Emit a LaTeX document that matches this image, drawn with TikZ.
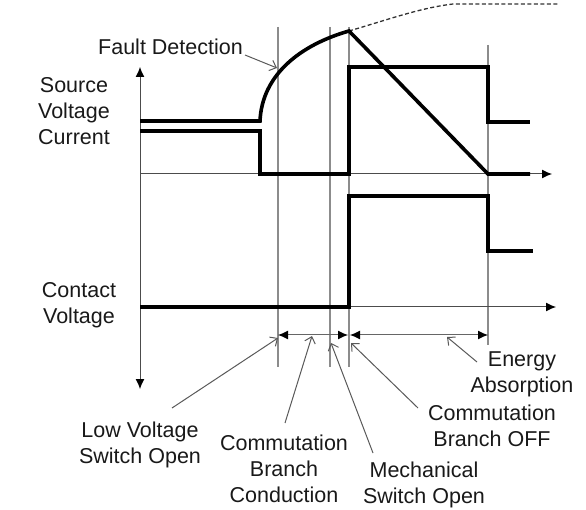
\documentclass[tikz,border=0pt]{standalone}
\usepackage{fontspec}
\setmainfont{Liberation Sans}
\usetikzlibrary{arrows.meta}
\begin{document}
\begin{tikzpicture}[x=1pt,y=-1pt,
  heavy/.style={line width=3.6pt, line join=miter, draw=black},
  guide/.style={line width=1.2pt, draw=black!45},
  axisline/.style={line width=1pt, draw=black!70, -{Latex[length=10pt,width=9pt,black]}},
  dimline/.style={line width=1pt, draw=black!60, {Latex[length=10pt,width=9pt,black]}-{Latex[length=10pt,width=9pt,black]}},
  pointer/.style={line width=1pt, draw=black!65, -{Straight Barb[length=6pt,width=11pt]}},
  lbl/.style={font=\fontsize{21.5}{26}\selectfont, inner sep=0pt, align=center, anchor=north, text=black!90}]
\useasboundingbox (0,0) rectangle (586,510);

% guide lines
\coordinate (g1t) at (278,27); \coordinate (g1b) at (278,367);
\coordinate (g2t) at (330,27); \coordinate (g2b) at (330,367);
\coordinate (g3t) at (349,27); \coordinate (g3b) at (349,367);
\coordinate (g4t) at (488,45); \coordinate (g4b) at (488,345);
\draw[guide] (g1t) -- (g1b);
\draw[guide] (g2t) -- (g2b);
\draw[guide] (g3t) -- (g3b);
\draw[guide] (g4t) -- (g4b);

% axes
\coordinate (vtop) at (140,67); \coordinate (vbot) at (140,389);
\coordinate (o1) at (140,174); \coordinate (x1) at (552,174);
\coordinate (o2) at (140,307); \coordinate (x2) at (556,307);
\draw[axisline, {Latex[length=10pt,width=9pt,black]}-{Latex[length=10pt,width=9pt,black]}] (vbot) -- (vtop);
\draw[axisline] (o1) -- (x1);
\draw[axisline] (o2) -- (x2);

% dashed prospective current
\coordinate (peak) at (349,31);
\coordinate (flat) at (453,4);
\coordinate (flatend) at (558,4);
\draw[line width=1.3pt, dash pattern=on 4pt off 2.5pt, black!80] (peak) .. controls (390,19) and (420,8) .. (flat) -- (flatend);

% source voltage / current traces
\draw[heavy] (140,121) -- (260,121) .. controls (262,75) and (300,45) .. (peak) -- (488,174) -- (530,174);
\draw[heavy] (140,131) -- (260,131) -- (260,174) -- (349,174) -- (349,67) -- (488,67) -- (488,122) -- (530,122);

% contact voltage
\draw[heavy] (140,307) -- (349,307) -- (349,196) -- (488,196) -- (488,251) -- (533,251);

% dimension arrows
\coordinate (d1) at (278,335); \coordinate (d2) at (348,335);
\coordinate (d3) at (350,335); \coordinate (d4) at (488,335);
\draw[dimline] (d1) -- (d2);
\draw[dimline] (d3) -- (d4);

% labels
\node[lbl, anchor=base] (fd) at (170.5,55) {Fault Detection};
\node[lbl] (svc) at (74,77.5) {Source\\Voltage\\Current};
\node[lbl] (cv) at (79,282.5) {Contact\\Voltage};
\node[lbl] (lv) at (140,421.5) {Low Voltage\\Switch Open};
\node[lbl] (cbc) at (284,434.5) {Commutation\\Branch\\Conduction};
\node[lbl] (ms) at (424,461.5) {Mechanical\\Switch Open};
\node[lbl] (cboff) at (492,404.5) {Commutation\\Branch OFF};
\node[lbl] (ea) at (522,351.5) {Energy\\Absorption};

% pointers
\coordinate (fdt) at (245,55); \coordinate (fdh) at (277,68);
\coordinate (lvt) at (172,408); \coordinate (lvh) at (278,338);
\coordinate (cbct) at (285,423); \coordinate (cbch) at (312,336);
\coordinate (mst) at (373,453); \coordinate (msh) at (331,343);
\coordinate (cbofft) at (418,408); \coordinate (cboffh) at (351,343);
\coordinate (eat) at (477,362); \coordinate (eah) at (447,337);
\draw[pointer] (fdt) -- (fdh);
\draw[pointer] (lvt) -- (lvh);
\draw[pointer] (cbct) -- (cbch);
\draw[pointer] (mst) -- (msh);
\draw[pointer] (cbofft) -- (cboffh);
\draw[pointer] (eat) -- (eah);
\end{tikzpicture}
\end{document}
